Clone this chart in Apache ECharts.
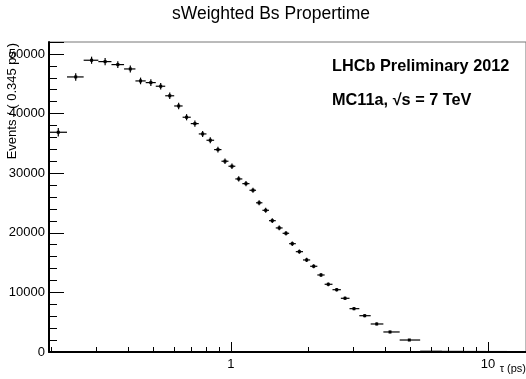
<!DOCTYPE html>
<html>
<head>
<meta charset="utf-8">
<script src="https://cdn.jsdelivr.net/npm/echarts@6/dist/echarts.min.js"></script>
<style>
  html, body { margin: 0; padding: 0; background: #fff; }
  #chart { width: 526px; height: 379px; }
</style>
</head>
<body>
<div id="chart"></div>
<script>
// bin centres (ps) and sWeighted yields
const tauCenters = [
  0.213, 0.249, 0.287, 0.324, 0.363, 0.406, 0.445, 0.488, 0.533, 0.578,
  0.626, 0.672, 0.724, 0.776, 0.831, 0.890, 0.948, 1.009, 1.072, 1.144,
  1.218, 1.287, 1.365, 1.448, 1.541, 1.637, 1.732, 1.845, 1.970, 2.098,
  2.240, 2.391, 2.578, 2.778, 3.010, 3.313, 3.689, 4.157, 4.941,
  6.0, 7.3, 8.9, 10.9, 13.0
];
const events = [
  36860, 46140, 48940, 48710, 48210, 47480, 45470, 45190, 44580, 42980,
  41270, 39380, 38310, 36580, 35520, 33950, 32000, 31160, 29030, 28240,
  27130, 25030, 23770, 22030, 20810, 19910, 18170, 16830, 15440, 14380,
  12920, 11360, 10450, 9010, 7270, 6090, 4700, 3360, 2010,
  60, 30, 15, 8, 4
];
const eventErrs = [
  700, 620, 600, 600, 580, 580, 560, 560, 550, 540,
  530, 520, 510, 500, 490, 480, 470, 460, 450, 440,
  430, 420, 410, 400, 390, 380, 370, 360, 350, 340,
  330, 310, 300, 290, 270, 250, 230, 210, 180,
  40, 25, 15, 10, 5
];

const majorTicks = [1, 10];
const minorTicks = [0.2, 0.3, 0.4, 0.5, 0.6, 0.7, 0.8, 0.9, 2, 3, 4, 5, 6, 7, 8, 9];

const X_MIN = 0.196;
const X_MAX = 14.05;
const FONT = 'Liberation Sans, Arial, sans-serif';

// bin edges halfway (in log) between neighbouring centres
function binEdges(c) {
  const n = c.length;
  return c.map((v, i) => {
    const lo = i > 0 ? Math.sqrt(c[i - 1] * v) : (v * v) / Math.sqrt(v * c[1]);
    const hi = i < n - 1 ? Math.sqrt(v * c[i + 1]) : (v * v) / Math.sqrt(c[i - 1] * v);
    return [lo, hi];
  });
}

const edges = binEdges(tauCenters);
const histData = tauCenters.map((t, i) => [t, events[i], edges[i][0], edges[i][1], eventErrs[i]]);

function renderPoint(params, api) {
  const x = api.value(0);
  const y = api.value(1);
  const err = api.value(4);
  const p = api.coord([x, y]);
  const lo = api.coord([api.value(2), y]);
  const hi = api.coord([api.value(3), y]);
  const top = api.coord([x, y + err]);
  const bot = api.coord([x, Math.max(y - err, 0)]);
  const style = { stroke: '#000', lineWidth: 1.2 };
  const big = y > 1000;
  const children = [
    { type: 'line', shape: { x1: lo[0], y1: p[1], x2: hi[0], y2: p[1] }, style: big ? style : { stroke: '#000', lineWidth: 2 } },
  ];
  if (big) {
    children.push(
      { type: 'line', shape: { x1: p[0], y1: top[1], x2: p[0], y2: bot[1] }, style },
      { type: 'rect', shape: { x: p[0] - 1.5, y: p[1] - 1.5, width: 3, height: 3 }, style: { fill: '#000' } }
    );
  }
  return { type: 'group', children };
}

const chart = echarts.init(document.getElementById('chart'));
chart.setOption({
  animation: false,
  backgroundColor: '#fff',
  grid: {
    left: 49, right: 0, top: 42, bottom: 27,
    show: true, borderColor: '#777', borderWidth: 1,
  },
  xAxis: [
    {
      type: 'log',
      min: X_MIN,
      max: X_MAX,
      axisLine: { show: true, lineStyle: { color: '#000', width: 2 } },
      axisTick: { show: true, inside: true, length: 10, customValues: majorTicks, lineStyle: { color: '#000', width: 1 } },
      axisLabel: {
        show: true, customValues: majorTicks, margin: 6,
        color: '#000', fontSize: 13, fontFamily: FONT,
      },
      splitLine: { show: false },
      minorTick: { show: false },
    },
    {
      type: 'log',
      position: 'bottom',
      min: X_MIN,
      max: X_MAX,
      axisLine: { show: false },
      axisTick: { show: true, inside: true, length: 5, customValues: minorTicks, lineStyle: { color: '#000', width: 1 } },
      axisLabel: { show: false },
      splitLine: { show: false },
    },
  ],
  yAxis: {
    type: 'value',
    min: 0,
    max: 52000,
    interval: 10000,
    axisLine: { show: true, lineStyle: { color: '#000', width: 2 } },
    axisTick: { show: true, inside: true, length: 15, lineStyle: { color: '#000', width: 1 } },
    minorTick: { show: true, splitNumber: 5, length: 8, lineStyle: { color: '#000', width: 1 } },
    axisLabel: {
      margin: 4, color: '#000', fontSize: 13, fontFamily: FONT,
      formatter: (v) => (v % 10000 === 0 && v <= 50000 ? String(v) : ''),
    },
    splitLine: { show: false },
  },
  series: [
    {
      type: 'custom',
      xAxisIndex: 0,
      clip: true,
      renderItem: renderPoint,
      encode: { x: 0, y: 1 },
      data: histData,
      z: 5,
    },
  ],
  graphic: [
    {
      type: 'text', x: 271, y: 14,
      style: { text: 'sWeighted Bs Propertime', align: 'center', verticalAlign: 'middle', fontSize: 17.5, fontFamily: FONT, fill: '#000' },
    },
    {
      type: 'text', x: 12, y: 43, rotation: Math.PI / 2,
      style: { text: 'Events / ( 0.345 ps )', align: 'right', verticalAlign: 'middle', fontSize: 13, fontFamily: FONT, fill: '#000' },
    },
    {
      type: 'text', x: 526, y: 369,
      style: { text: 'τ (ps)', align: 'right', verticalAlign: 'middle', fontSize: 11, fontFamily: FONT, fill: '#000' },
    },
    {
      type: 'text', x: 332, y: 67,
      style: { text: 'LHCb Preliminary 2012', align: 'left', verticalAlign: 'middle', fontSize: 16.3, fontWeight: 'bold', fontFamily: FONT, fill: '#000' },
    },
    {
      type: 'text', x: 332, y: 101,
      style: { text: 'MC11a, √s = 7 TeV', align: 'left', verticalAlign: 'middle', fontSize: 16.3, fontWeight: 'bold', fontFamily: FONT, fill: '#000' },
    },
  ],
});
</script>
</body>
</html>
